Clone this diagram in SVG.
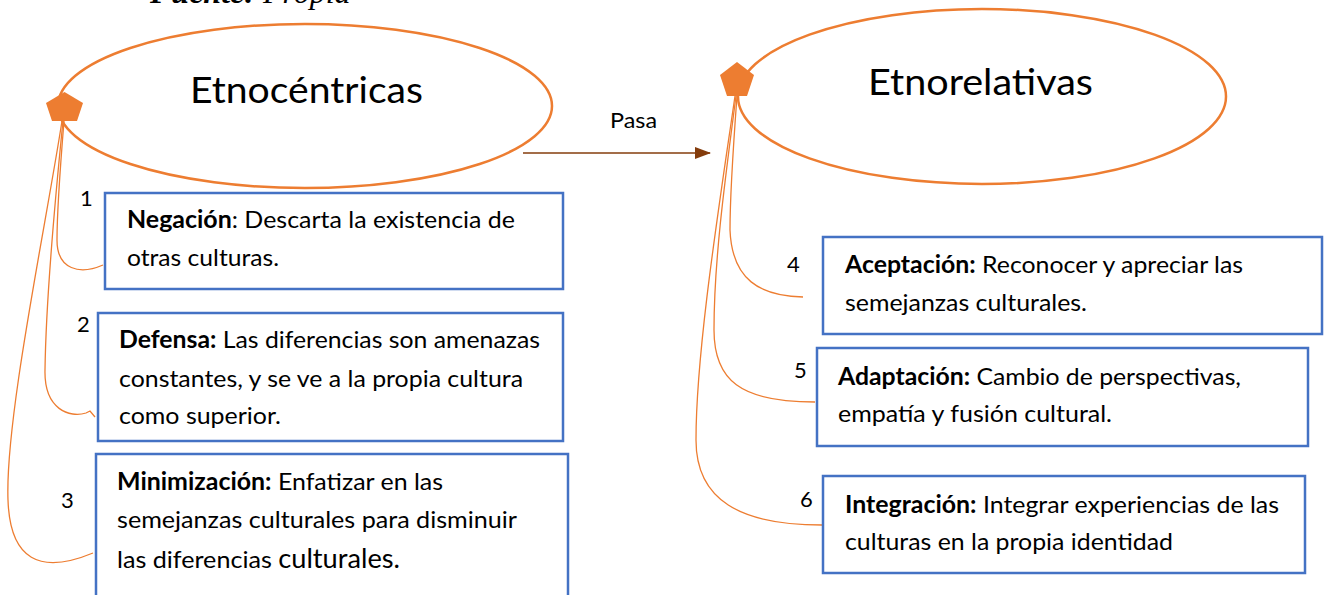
<svg xmlns="http://www.w3.org/2000/svg" width="1325" height="595" viewBox="0 0 1325 595">
<style>
.ell{fill:none;stroke:#ED7D31;stroke-width:2.5}
.pent{fill:#ED7D31;stroke:none}
.box{fill:#fff;stroke:#4472C4;stroke-width:2.5}
.con{fill:none;stroke:#ED7D31;stroke-width:1.3}
.t{font-family:Lato,"Open Sans","Liberation Sans",sans-serif;fill:#000}
.body{font-size:24px}
.title{font-size:36px}
.num{font-size:22px}
.b{font-weight:bold}
</style>
<defs>
<marker id="ah" markerWidth="16" markerHeight="12" refX="15" refY="6" orient="auto" markerUnits="userSpaceOnUse">
<path d="M0,0 L16,6 L0,12 Z" fill="#843C0C"/>
</marker>
</defs>
<rect width="1325" height="595" fill="#fff"/>
<text x="150" y="3" font-family="'Liberation Serif',serif" font-size="32" font-style="italic"><tspan font-weight="bold">Fuente:</tspan> Propia</text>

<g id="connectors">
<path class="con" d="M62,121 C45,230 5,420 8,500 C10,560 40,575 93,553"/>
<path class="con" d="M63,121 C55,200 46,300 45,370 C44,410 70,418 86,413 L90,411 L95,417"/>
<path class="con" d="M64,121 C60,170 57,210 57,240 C57,270 80,275 103,265"/>
<path class="con" d="M735,96 C720,200 696,350 696,440 C696,500 740,525 822,525"/>
<path class="con" d="M736,96 C725,180 714,260 714,330 C714,380 740,402 815,402"/>
<path class="con" d="M737,96 C733,150 730,200 730,230 C732,280 760,296 803,297"/>
<line x1="523" y1="153" x2="710" y2="153" stroke="#843C0C" stroke-width="1.5" marker-end="url(#ah)"/>
<text class="t" x="610" y="128" font-size="22" textLength="47" lengthAdjust="spacingAndGlyphs">Pasa</text>
</g>

<g id="etnocentricas">
<ellipse class="ell" cx="305" cy="106" rx="247" ry="82"/>
<polygon class="pent" points="64.5,92 83,103 77,121 52,121 46,103"/>
<text class="t title" x="190" y="103" textLength="233" lengthAdjust="spacingAndGlyphs">Etnocéntricas</text>
</g>

<g id="etnorelativas">
<ellipse class="ell" cx="982" cy="96.5" rx="244" ry="87.5"/>
<polygon class="pent" points="737,62 754,75 747,96 727,96 720,75"/>
<text class="t title" x="868" y="95" textLength="225" lengthAdjust="spacingAndGlyphs">Etnorelativas</text>
</g>

<g id="negacion">
<rect class="box" x="105" y="193" width="458" height="96"/>
<text class="t num" x="80" y="206">1</text>
<text class="t body" x="127" y="228" textLength="388" lengthAdjust="spacingAndGlyphs"><tspan class="b">Negación</tspan>:  Descarta la existencia de</text>
<text class="t body" x="127" y="266" textLength="152" lengthAdjust="spacingAndGlyphs">otras culturas.</text>
</g>

<g id="defensa">
<rect class="box" x="98" y="313" width="465" height="128"/>
<text class="t num" x="77" y="332">2</text>
<text class="t body" x="119" y="348" textLength="421" lengthAdjust="spacingAndGlyphs"><tspan class="b">Defensa:</tspan> Las diferencias son amenazas</text>
<text class="t body" x="119" y="387" textLength="404" lengthAdjust="spacingAndGlyphs">constantes, y se ve a la propia cultura</text>
<text class="t body" x="119" y="424" textLength="162" lengthAdjust="spacingAndGlyphs">como superior.</text>
</g>

<g id="minimizacion">
<rect class="box" x="96" y="454" width="472" height="150"/>
<text class="t num" x="61" y="508">3</text>
<text class="t body" x="117" y="490" textLength="326" lengthAdjust="spacingAndGlyphs"><tspan class="b">Minimización:</tspan> Enfatizar en las</text>
<text class="t body" x="117" y="528" textLength="400" lengthAdjust="spacingAndGlyphs">semejanzas culturales para disminuir</text>
<text class="t body" x="117" y="568" textLength="283" lengthAdjust="spacingAndGlyphs">las diferencias <tspan font-size="26">culturales.</tspan></text>
</g>

<g id="aceptacion">
<rect class="box" x="823" y="237" width="499" height="97"/>
<text class="t num" x="787" y="272">4</text>
<text class="t body" x="845" y="273" textLength="398" lengthAdjust="spacingAndGlyphs"><tspan class="b">Aceptación:</tspan> Reconocer y apreciar las</text>
<text class="t body" x="845" y="311" textLength="242" lengthAdjust="spacingAndGlyphs">semejanzas culturales.</text>
</g>

<g id="adaptacion">
<rect class="box" x="817" y="348" width="491" height="98"/>
<text class="t num" x="794" y="378">5</text>
<text class="t body" x="838" y="385" textLength="403" lengthAdjust="spacingAndGlyphs"><tspan class="b">Adaptación:</tspan> Cambio de perspectivas,</text>
<text class="t body" x="838" y="422" textLength="274" lengthAdjust="spacingAndGlyphs">empatía y fusión cultural.</text>
</g>

<g id="integracion">
<rect class="box" x="823" y="476" width="482" height="97"/>
<text class="t num" x="800" y="507">6</text>
<text class="t body" x="845" y="513" textLength="434" lengthAdjust="spacingAndGlyphs"><tspan class="b">Integración:</tspan> Integrar experiencias de las</text>
<text class="t body" x="845" y="550" textLength="328" lengthAdjust="spacingAndGlyphs">culturas en la propia identidad</text>
</g>
</svg>
